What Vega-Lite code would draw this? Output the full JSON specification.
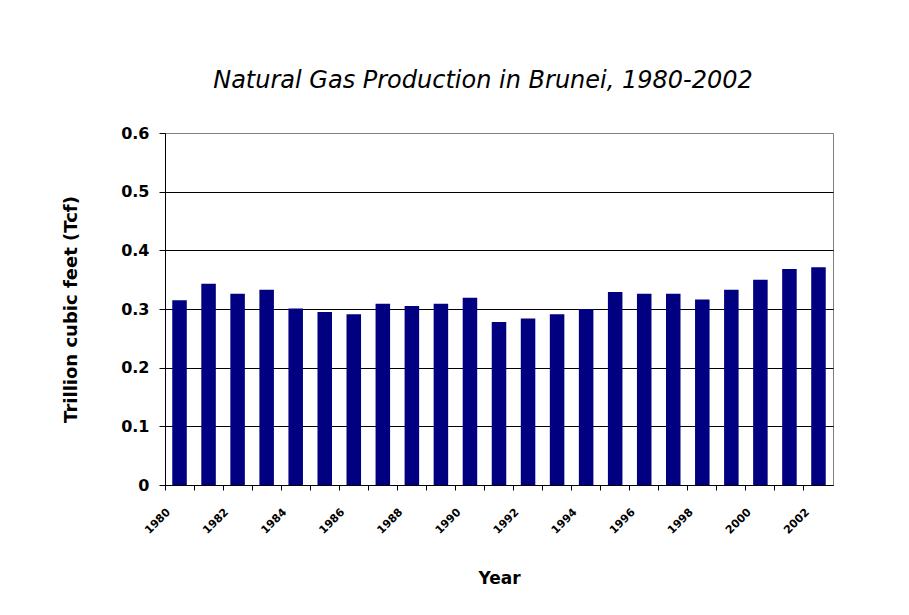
{
  "$schema": "https://vega.github.io/schema/vega-lite/v6.json",
  "width": 668,
  "height": 352,
  "autosize": "none",
  "padding": {"left": 165, "top": 133, "right": 76, "bottom": 130},
  "background": "white",
  "title": {
    "text": "Natural Gas Production in Brunei, 1980-2002",
    "font": "DejaVu Sans",
    "fontStyle": "italic",
    "fontWeight": "normal",
    "fontSize": 24,
    "color": "black",
    "offset": 32,
    "dx": -16
  },
  "data": {
    "values": [
      {"year": 1980, "tcf": 0.315},
      {"year": 1981, "tcf": 0.343},
      {"year": 1982, "tcf": 0.326},
      {"year": 1983, "tcf": 0.333},
      {"year": 1984, "tcf": 0.301},
      {"year": 1985, "tcf": 0.295},
      {"year": 1986, "tcf": 0.291},
      {"year": 1987, "tcf": 0.309},
      {"year": 1988, "tcf": 0.305},
      {"year": 1989, "tcf": 0.309},
      {"year": 1990, "tcf": 0.319},
      {"year": 1991, "tcf": 0.278},
      {"year": 1992, "tcf": 0.284},
      {"year": 1993, "tcf": 0.291},
      {"year": 1994, "tcf": 0.300},
      {"year": 1995, "tcf": 0.329},
      {"year": 1996, "tcf": 0.326},
      {"year": 1997, "tcf": 0.326},
      {"year": 1998, "tcf": 0.316},
      {"year": 1999, "tcf": 0.333},
      {"year": 2000, "tcf": 0.350},
      {"year": 2001, "tcf": 0.368},
      {"year": 2002, "tcf": 0.371}
    ]
  },
  "mark": {"type": "bar", "color": "#000080", "width": {"band": 0.5}},
  "encoding": {
    "x": {
      "field": "year",
      "type": "ordinal",
      "scale": {"paddingInner": 0, "paddingOuter": 0},
      "axis": {
        "title": "Year",
        "titleFont": "DejaVu Sans",
        "titleFontSize": 17,
        "titleFontWeight": "bold",
        "titleColor": "black",
        "titlePadding": 35,
        "bandPosition": 0,
        "labelOffset": -15,
        "labelAngle": -45,
        "labelAlign": "right",
        "labelBaseline": "top",
        "labelFont": "DejaVu Sans",
        "labelFontSize": 11,
        "labelFontWeight": "bold",
        "labelColor": "black",
        "labelPadding": 16,
        "labelExpr": "datum.value % 2 == 0 ? datum.label : ''",
        "ticks": true,
        "tickSize": 5,
        "tickColor": "black",
        "domainColor": "black",
        "grid": false
      }
    },
    "y": {
      "field": "tcf",
      "type": "quantitative",
      "scale": {"domain": [0, 0.6], "nice": false},
      "axis": {
        "title": "Trillion cubic feet (Tcf)",
        "titleFont": "DejaVu Sans",
        "titleFontSize": 18,
        "titleFontWeight": "bold",
        "titleColor": "black",
        "titlePadding": 40,
        "values": [0, 0.1, 0.2, 0.3, 0.4, 0.5, 0.6],
        "format": "~g",
        "labelFont": "DejaVu Sans",
        "labelFontSize": 16,
        "labelFontWeight": "bold",
        "labelColor": "black",
        "labelPadding": 10,
        "tickSize": 6,
        "tickColor": "black",
        "domainColor": "black",
        "grid": true,
        "gridColor": {"condition": {"test": "datum.value === 0.6", "value": "#808080"}, "value": "black"},
        "gridOpacity": 1
      }
    }
  },
  "config": {
    "view": {"stroke": "#808080", "strokeWidth": 1}
  }
}
